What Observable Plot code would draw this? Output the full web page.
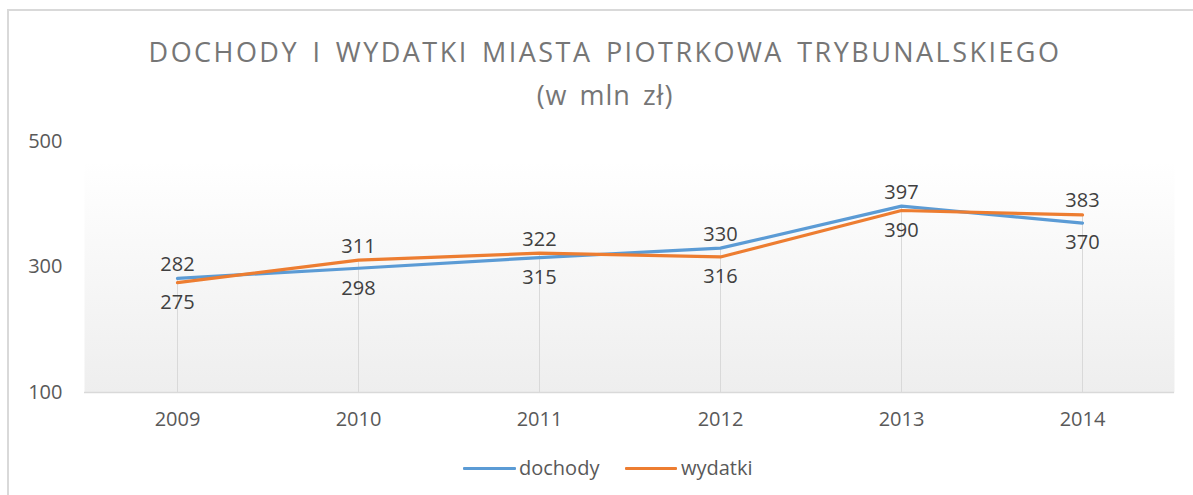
<!DOCTYPE html>
<html>
<head>
<meta charset="utf-8">
<script src="https://cdn.jsdelivr.net/npm/d3@7"></script>
<script src="https://cdn.jsdelivr.net/npm/@observablehq/plot@0.6"></script>
<style>
  html, body { margin: 0; padding: 0; background: #fff; }
  #wrap { position: relative; width: 1193px; height: 495px; overflow: hidden; font-family: "Open Sans", sans-serif; }
  #border { position: absolute; left: 7px; top: 9px; width: 1200px; height: 500px; border-left: 2px solid #d9d9d9; border-top: 2px solid #d9d9d9; }
  #title { position: absolute; left: 0; width: 1210px; top: 30px; text-align: center; color: #767676; font-size: 27px; letter-spacing: 2.45px; word-spacing: 4px; line-height: 43px; }
  #sub { letter-spacing: 1px; }
  #chart { position: absolute; left: 0; top: 110px; }
  #legend { position: absolute; top: 455px; left: 0; width: 1193px; height: 26px; font-size: 20px; color: #595959; }
  .sw { position: absolute; top: 12px; height: 3px; border-radius: 1px; }
  .lt { position: absolute; top: 0; line-height: 26px; }
</style>
</head>
<body>
<div id="wrap">
  <div id="border"></div>
  <div id="title">DOCHODY I WYDATKI MIASTA PIOTRKOWA TRYBUNALSKIEGO<br><span id="sub">(w mln zł)</span></div>
  <div id="chart"></div>
  <div id="legend">
    <div class="sw" style="left:463px;width:53px;background:#5b9bd5"></div>
    <div class="lt" style="left:519px">dochody</div>
    <div class="sw" style="left:625px;width:52px;background:#ed7d31"></div>
    <div class="lt" style="left:681px">wydatki</div>
  </div>
</div>
<script>
const years = ["2009", "2010", "2011", "2012", "2013", "2014"];
const dochody = [282, 298, 315, 330, 397, 370];
const wydatki = [275, 311, 322, 316, 390, 383];
const yTicks = [100, 300, 500];
const seriesNames = ["dochody", "wydatki"];
const seriesColors = ["#5b9bd5", "#ed7d31"];

const rows = [];
years.forEach((y, i) => {
  rows.push({year: y, series: "dochody", value: dochody[i], above: dochody[i] >= wydatki[i]});
  rows.push({year: y, series: "wydatki", value: wydatki[i], above: wydatki[i] > dochody[i]});
});
const drops = years.map((y, i) => ({year: y, top: Math.max(dochody[i], wydatki[i])}));

const gradientDefs = () => {
  const defs = d3.create("svg:defs");
  const g = defs.append("linearGradient").attr("id", "bgGrad").attr("x1", 0).attr("x2", 0).attr("y1", 0).attr("y2", 1);
  g.append("stop").attr("offset", "0%").attr("stop-color", "#ffffff");
  g.append("stop").attr("offset", "8%").attr("stop-color", "#ffffff");
  g.append("stop").attr("offset", "100%").attr("stop-color", "#eeeeee");
  return defs.node();
};

const chart = Plot.plot({
  width: 1193,
  height: 330,
  marginLeft: 84,
  marginRight: 19,
  marginTop: 31,
  marginBottom: 48,
  style: {fontFamily: "Open Sans, sans-serif", fontSize: "20px", color: "#595959", background: "transparent"},
  x: {type: "point", domain: years, padding: 0.5, align: 0.5, label: null},
  y: {domain: [100, 500], label: null},
  color: {domain: seriesNames, range: seriesColors},
  marks: [
    gradientDefs,
    Plot.frame({fill: "url(#bgGrad)", stroke: null}),
    Plot.ruleX(drops, {x: "year", y1: 100, y2: "top", stroke: "#d9d9d9", strokeWidth: 1}),
    Plot.ruleY([100], {stroke: "#d9d9d9", strokeWidth: 1.5}),
    Plot.axisY({ticks: yTicks, tickSize: 0, tickPadding: 22, fontSize: 20, fill: "#595959"}),
    Plot.axisX({tickSize: 0, tickPadding: 19, fontSize: 20, fill: "#595959"}),
    Plot.line(rows, {x: "year", y: "value", z: "series", stroke: "series", strokeWidth: 3.2, curve: "linear"}),
    Plot.text(rows.filter(d => d.above), {x: "year", y: "value", text: d => String(d.value), dy: -14, fill: "#404040", fontSize: 20}),
    Plot.text(rows.filter(d => !d.above), {x: "year", y: "value", text: d => String(d.value), dy: 20, fill: "#404040", fontSize: 20})
  ]
});
document.getElementById("chart").appendChild(chart);
</script>
</body>
</html>
